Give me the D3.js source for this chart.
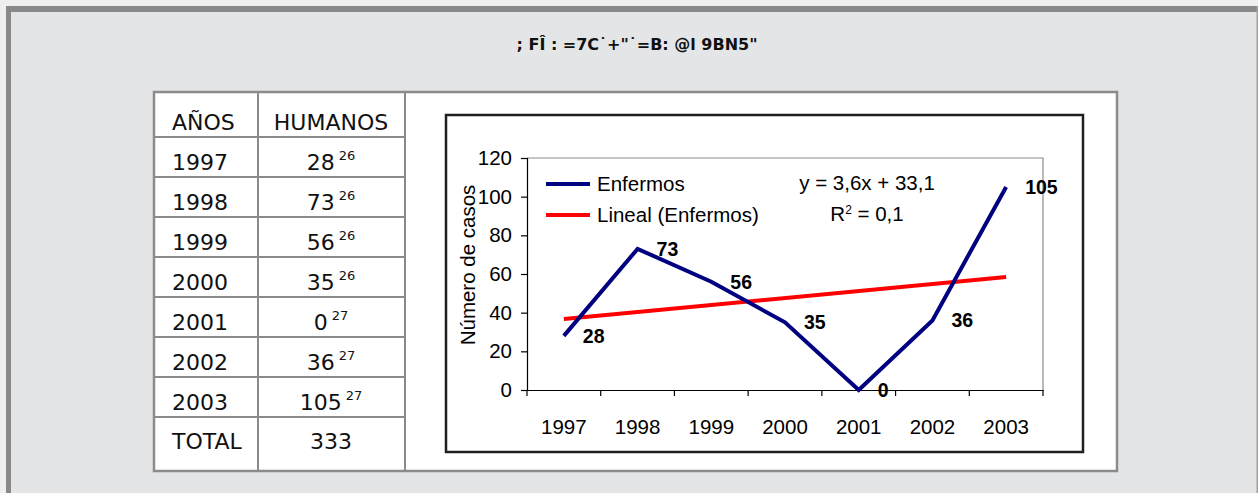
<!DOCTYPE html>
<html>
<head>
<meta charset="utf-8">
<script src="https://cdn.jsdelivr.net/npm/d3@7"></script>
<style>
  html, body { margin: 0; padding: 0; background: #efefef; }
  svg { display: block; }
</style>
</head>
<body>
<svg id="fig" width="1258" height="493"></svg>
<script>
// ---- data ----
const years = ["1997", "1998", "1999", "2000", "2001", "2002", "2003"];
const cases = [28, 73, 56, 35, 0, 36, 105];
const refs = ["26", "26", "26", "26", "27", "27", "27"];
const totalLabel = "333";
const yTicks = [0, 20, 40, 60, 80, 100, 120];
const headers = ["AÑOS", "HUMANOS"];
const seriesName = "Enfermos";
const trendName = "Lineal (Enfermos)";
const titleText = "; FÎ : =7C˙+\"˙=B: @l 9BN5\"";

// least-squares fit of cases against period index 1..n
const n = cases.length;
const xs = d3.range(1, n + 1);
const mx = d3.mean(xs), my = d3.mean(cases);
const slope = d3.sum(xs, (x, i) => (x - mx) * (cases[i] - my)) / d3.sum(xs, x => (x - mx) ** 2);
const intercept = my - slope * mx;
const yhat = xs.map(x => intercept + slope * x);
const r2 = 1 - d3.sum(cases, (c, i) => (c - yhat[i]) ** 2) / d3.sum(cases, c => (c - my) ** 2);
const fmt1 = v => d3.format(".1f")(v).replace(".", ",");

const svg = d3.select("#fig");

// ---- page frame ----
svg.append("rect").attr("x", 6).attr("y", 6).attr("width", 1252).attr("height", 500)
  .attr("fill", "#e4e5e7");
svg.append("rect").attr("x", 6).attr("y", 6).attr("width", 1252).attr("height", 6).attr("fill", "#88898b");
svg.append("rect").attr("x", 6).attr("y", 6).attr("width", 5).attr("height", 500).attr("fill", "#88898b");
svg.append("rect").attr("x", 1256.5).attr("y", 6).attr("width", 1.5).attr("height", 500).attr("fill", "#a0a1a3");

svg.append("text").attr("x", 637).attr("y", 50).attr("text-anchor", "middle")
  .attr("font-family", "DejaVu Sans").attr("font-weight", "bold").attr("font-size", 16)
  .attr("textLength", 241).attr("fill", "#111").text(titleText);

// ---- table ----
const colX = [154, 258, 405, 1117];
const headTop = 92, headBot = 137, rowH = 40;
const rowTops = years.map((_, i) => headBot + i * rowH);
const totalTop = headBot + n * rowH, tableBot = 471;
const lineCol = "#8b8b8b";
const tf = "DejaVu Sans";
const ts = 22;

svg.append("rect").attr("x", colX[0]).attr("y", headTop)
  .attr("width", colX[3] - colX[0]).attr("height", tableBot - headTop).attr("fill", "#fff");

const grid = svg.append("g").attr("stroke", lineCol).attr("stroke-width", 2);
[headBot, ...rowTops.slice(1), totalTop].forEach(y =>
  grid.append("line").attr("x1", colX[0]).attr("x2", colX[2]).attr("y1", y).attr("y2", y));
[colX[1], colX[2]].forEach(x =>
  grid.append("line").attr("x1", x).attr("x2", x).attr("y1", headTop).attr("y2", tableBot));
svg.append("rect").attr("x", colX[0]).attr("y", headTop)
  .attr("width", colX[3] - colX[0]).attr("height", tableBot - headTop)
  .attr("fill", "none").attr("stroke", lineCol).attr("stroke-width", 2.5);

svg.append("text").attr("x", 172).attr("y", headTop + 38).attr("font-family", tf).attr("font-size", ts)
  .attr("fill", "#111").text(headers[0]);
svg.append("text").attr("x", 331).attr("y", headTop + 38).attr("text-anchor", "middle")
  .attr("font-family", tf).attr("font-size", ts).attr("fill", "#111").text(headers[1]);

years.forEach((yr, i) => {
  svg.append("text").attr("x", 172).attr("y", rowTops[i] + 33).attr("font-family", tf)
    .attr("font-size", ts).attr("fill", "#111").text(yr);
  const t = svg.append("text").attr("x", 331).attr("y", rowTops[i] + 33).attr("text-anchor", "middle")
    .attr("font-family", tf).attr("fill", "#111");
  t.append("tspan").attr("font-size", ts).text(cases[i]);
  t.append("tspan").attr("font-size", 13).attr("dx", 4).attr("dy", -10).text(refs[i]);
});
svg.append("text").attr("x", 172).attr("y", totalTop + 32).attr("font-family", tf)
  .attr("font-size", ts).attr("fill", "#111").text("TOTAL");
svg.append("text").attr("x", 331).attr("y", totalTop + 32).attr("text-anchor", "middle")
  .attr("font-family", tf).attr("font-size", ts).attr("fill", "#111").text(totalLabel);

// ---- chart ----
const cf = "Liberation Sans, Arial, sans-serif";
const fs = 20.5;
svg.append("rect").attr("x", 446).attr("y", 115).attr("width", 637).attr("height", 337)
  .attr("fill", "#fff").attr("stroke", "#231f20").attr("stroke-width", 2.5);

const plot = { l: 527, r: 1043, t: 158, b: 390 };
const x = d3.scaleBand().domain(years).range([plot.l, plot.r]);
const y = d3.scaleLinear().domain([0, 120]).range([plot.b, plot.t]);
const cx = d => x(d) + x.bandwidth() / 2;

// plot area outline (top and right)
svg.append("path").attr("d", `M${plot.l},${plot.t}H${plot.r}V${plot.b}`)
  .attr("fill", "none").attr("stroke", "#8c8c8c").attr("stroke-width", 1.2);

// y axis
const yAxis = svg.append("g").attr("transform", `translate(${plot.l},0)`)
  .call(d3.axisLeft(y).tickValues(yTicks).tickSize(6).tickPadding(9));
yAxis.select(".domain").attr("stroke", "#000").attr("stroke-width", 1.2);
yAxis.selectAll(".tick line").attr("stroke", "#000").attr("stroke-width", 1.2);
yAxis.selectAll(".tick text").attr("font-family", cf).attr("font-size", fs).attr("fill", "#000");

// x axis with ticks on category boundaries
const xAxis = svg.append("g").attr("transform", `translate(0,${plot.b})`)
  .call(d3.axisBottom(x).tickSize(0).tickPadding(29));
xAxis.select(".domain").attr("stroke", "#000").attr("stroke-width", 1.2);
xAxis.selectAll(".tick text").attr("font-family", cf).attr("font-size", fs).attr("fill", "#000");
const bounds = years.map(d => x(d)).concat([plot.r]);
svg.append("g").selectAll("line").data(bounds).join("line")
  .attr("x1", d => d).attr("x2", d => d).attr("y1", plot.b).attr("y2", plot.b + 6)
  .attr("stroke", "#000").attr("stroke-width", 1.2);

// y title
svg.append("text").attr("transform", "translate(475,265) rotate(-90)").attr("text-anchor", "middle")
  .attr("font-family", cf).attr("font-size", fs).attr("fill", "#000").text("Número de casos");

// trend line
svg.append("line")
  .attr("x1", cx(years[0])).attr("y1", y(yhat[0]))
  .attr("x2", cx(years[n - 1])).attr("y2", y(yhat[n - 1]))
  .attr("stroke", "#ff0000").attr("stroke-width", 4);

// series line
const line = d3.line().x((d, i) => cx(years[i])).y(d => y(d));
svg.append("path").datum(cases).attr("d", line).attr("fill", "none")
  .attr("stroke", "#000080").attr("stroke-width", 4).attr("stroke-linejoin", "miter");

// value labels
svg.append("g").selectAll("text").data(cases).join("text")
  .attr("x", (d, i) => cx(years[i]) + 19).attr("y", d => y(d) + 7)
  .attr("font-family", cf).attr("font-weight", "bold").attr("font-size", 19.5).attr("fill", "#000")
  .text(d => d);

// legend
const leg = [{ name: seriesName, color: "#000080", y: 184 }, { name: trendName, color: "#ff0000", y: 215 }];
leg.forEach(l => {
  svg.append("line").attr("x1", 546).attr("x2", 590).attr("y1", l.y).attr("y2", l.y)
    .attr("stroke", l.color).attr("stroke-width", 4);
  svg.append("text").attr("x", 597).attr("y", l.y + 7).attr("font-family", cf).attr("font-size", fs)
    .attr("fill", "#000").text(l.name);
});

// regression equation
svg.append("text").attr("x", 867).attr("y", 190).attr("text-anchor", "middle")
  .attr("font-family", cf).attr("font-size", fs).attr("fill", "#000")
  .text(`y = ${fmt1(slope)}x + ${fmt1(intercept)}`);
const rt = svg.append("text").attr("x", 867).attr("y", 221).attr("text-anchor", "middle")
  .attr("font-family", cf).attr("font-size", fs).attr("fill", "#000");
rt.append("tspan").text("R");
rt.append("tspan").attr("font-size", 12).attr("dy", -7).text("2");
rt.append("tspan").attr("dy", 7).text(` = ${fmt1(r2)}`);
</script>
</body>
</html>
